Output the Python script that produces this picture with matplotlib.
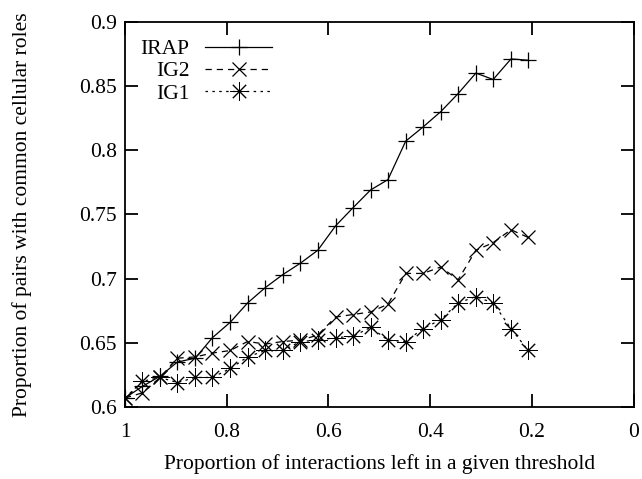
import matplotlib
matplotlib.use('Agg')
import matplotlib.pyplot as plt

# fraction of interactions kept at each threshold (1 - k/29)
x_vals = [1.000, 0.966, 0.931, 0.897, 0.862, 0.828, 0.793, 0.759,
          0.724, 0.690, 0.655, 0.621, 0.586, 0.552, 0.517, 0.483,
          0.448, 0.414, 0.379, 0.345, 0.310, 0.276, 0.241, 0.207]

irap = [0.607, 0.616, 0.624, 0.635, 0.638, 0.654, 0.666, 0.681,
        0.693, 0.703, 0.712, 0.722, 0.741, 0.755, 0.769, 0.777,
        0.807, 0.818, 0.830, 0.844, 0.860, 0.855, 0.871, 0.870]

ig2 = [0.607, 0.611, 0.623, 0.638, 0.639, 0.642, 0.644, 0.651,
       0.649, 0.651, 0.652, 0.656, 0.670, 0.672, 0.674, 0.680,
       0.704, 0.704, 0.709, 0.699, 0.722, 0.728, 0.738, 0.732]

ig1 = [0.607, 0.620, 0.623, 0.619, 0.623, 0.623, 0.630, 0.639,
       0.644, 0.644, 0.651, 0.652, 0.654, 0.655, 0.662, 0.652,
       0.651, 0.661, 0.668, 0.681, 0.686, 0.681, 0.661, 0.644]

x_ticks = [1, 0.8, 0.6, 0.4, 0.2, 0]
x_tick_labels = ['1', '0.8', '0.6', '0.4', '0.2', '0']
y_ticks = [0.6, 0.65, 0.7, 0.75, 0.8, 0.85, 0.9]
y_tick_labels = ['0.6', '0.65', '0.7', '0.75', '0.8', '0.85', '0.9']

plt.rcParams['font.family'] = ['Liberation Serif', 'DejaVu Serif']
fs = 15.5

fig = plt.figure(figsize=(6.42, 4.79), dpi=100)
ax = fig.add_axes([0.1947, 0.1503, 0.7921, 0.8044])

ax.plot(x_vals, irap, color='black', lw=0.9, linestyle='-',
        marker='+', markersize=11, markeredgewidth=0.9, label='IRAP')
ax.plot(x_vals, ig2, color='black', lw=0.9, linestyle=(0, (5, 4)),
        marker='x', markersize=10, markeredgewidth=0.9, label='IG2')
ax.plot(x_vals, ig1, color='black', lw=0.9, linestyle=(0, (2, 3.5)),
        marker=(8, 2, 0), markersize=13.5, markeredgewidth=0.7, label='IG1')

ax.set_xlim(1, 0)
ax.set_ylim(0.6, 0.9)
ax.set_xticks(x_ticks)
ax.set_xticklabels(x_tick_labels)
ax.set_yticks(y_ticks)
ax.set_yticklabels(y_tick_labels)

ax.tick_params(direction='in', length=9.5, width=1.3, labelsize=fs,
               top=True, right=True)
ax.tick_params(axis='x', pad=11.5)
ax.tick_params(axis='y', pad=6)
for sp in ax.spines.values():
    sp.set_linewidth(1.3)

ax.set_xlabel('Proportion of interactions left in a given threshold',
              fontsize=fs, labelpad=9)
ax.set_ylabel('Proportion of pairs with common cellular roles',
              fontsize=fs, labelpad=34)

leg = ax.legend(loc='upper left', bbox_to_anchor=(0.03, 0.955), frameon=False,
                markerfirst=False, fontsize=fs, handlelength=3.1,
                handletextpad=0.75, labelspacing=0.1, borderpad=0,
                borderaxespad=0)
# gnuplot-style key: labels right-aligned against the samples
for col in leg._legend_handle_box.get_children():
    col.align = 'right'

fig.savefig('out.png', dpi=100)
